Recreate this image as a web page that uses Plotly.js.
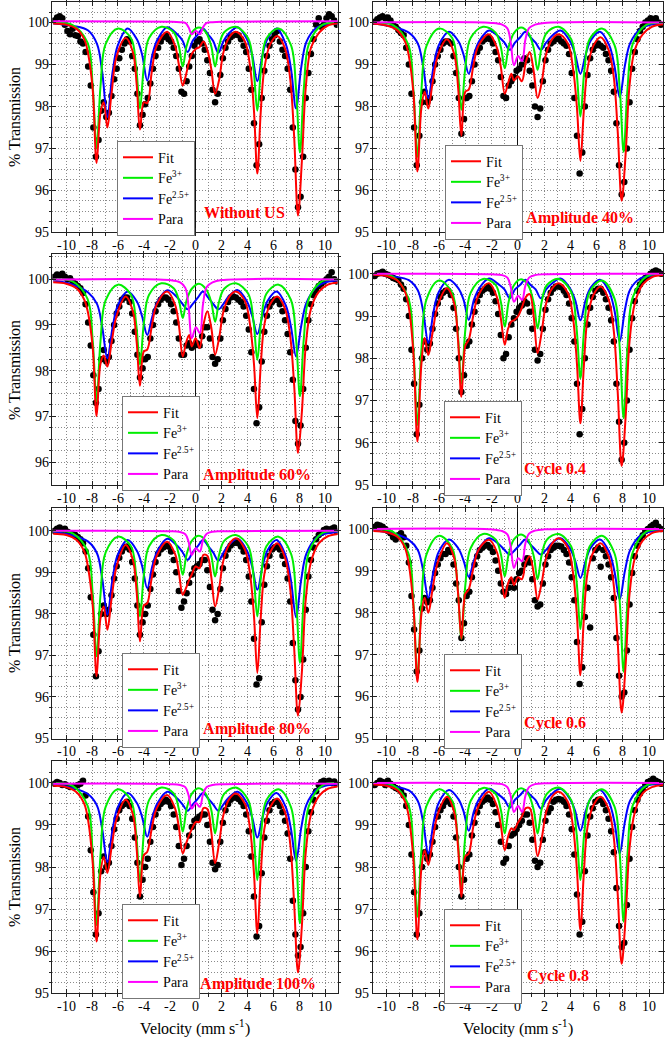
<!DOCTYPE html>
<html>
<head>
<meta charset="utf-8">
<script src="https://cdn.plot.ly/plotly-3.0.1.min.js"></script>
<style>
  @font-face { font-family: 'PaperSerif'; font-weight: 400; src: local('Liberation Serif'), local('LiberationSerif'), local('LiberationSerif-Regular'), local('Times New Roman'); }
  @font-face { font-family: 'PaperSerif'; font-weight: 700; src: local('Liberation Serif Bold'), local('LiberationSerif-Bold'), local('Times New Roman Bold'); }
  html, body { margin: 0; padding: 0; background: #fff; font-family: 'PaperSerif', 'Liberation Serif', serif; }
  #plot { width: 665px; height: 1039px; }
</style>
</head>
<body>
<div id="plot"></div>
<script>
// velocity channels (mm/s) shared by every measured spectrum
const velocity = [-10.9,-10.7,-10.5,-10.3,-10.1,-9.9,-9.7,-9.5,-9.3,-9.1,
  -8.9,-8.7,-8.5,-8.3,-8.1,-7.9,-7.7,-7.5,-7.3,-7.1,
  -6.9,-6.7,-6.5,-6.3,-6.1,-5.9,-5.7,-5.5,-5.3,-5.1,
  -4.9,-4.7,-4.5,-4.3,-4.1,-3.9,-3.7,-3.5,-3.3,-3.1,
  -2.9,-2.7,-2.5,-2.3,-2.1,-1.9,-1.7,-1.5,-1.3,-1.1,
  -0.9,-0.7,-0.5,-0.3,-0.1,0.1,0.3,0.5,0.7,0.9,
  1.1,1.3,1.5,1.7,1.9,2.1,2.3,2.5,2.7,2.9,
  3.1,3.3,3.5,3.7,3.9,4.1,4.3,4.5,4.7,4.9,
  5.1,5.3,5.5,5.7,5.9,6.1,6.3,6.5,6.7,6.9,
  7.1,7.3,7.5,7.7,7.9,8.1,8.3,8.5,8.7,8.9,
  9.1,9.3,9.5,9.7,9.9,10.1,10.3,10.5,10.7,10.9];

// velocities of the points
const fitX = [-11,-10,-9.2,-8.6,-8.3,-7.95,-7.65,-7.35,-7.1,-6.82,-6.5,-6.1,-5.4,-4.85,-4.55,-4.3,-4.0,-3.74,-3.4,-3.0,-2.2,-1.6,-1.3,-1.0,-0.75,-0.5,-0.3,0.0,0.3,0.6,0.9,1.2,1.5,1.8,2.15,2.6,3.1,3.8,4.2,4.5,4.76,5.02,5.3,5.75,6.3,6.9,7.3,7.6,7.9,8.2,8.5,8.9,9.5,10.2,11.1];
const fe3X = [-11,-9.5,-8.35,-7.95,-7.65,-7.35,-6.95,-6.0,-5.0,-4.6,-4.3,-4.0,-3.6,-2.65,-1.7,-1.3,-1.0,-0.7,-0.3,0.25,0.8,1.2,1.5,1.8,2.2,3.1,4.06,4.46,4.76,5.06,5.46,6.4,7.35,7.75,8.05,8.35,8.75,9.8,11.1];
const fe25X = [-11,-9.5,-8.3,-7.62,-7.22,-6.82,-6.42,-6.02,-5.25,-4.54,-4.14,-3.74,-3.34,-2.94,-2.2,-1.42,-1.02,-0.62,-0.22,0.18,0.56,0.95,1.35,1.75,2.15,2.55,3.25,3.96,4.36,4.76,5.16,5.56,6.25,6.95,7.35,7.75,8.15,8.55,9.3,10.0,11.1];
const paraX = [-11,-2.0,-1.2,-0.8,-0.55,-0.3,0.02,0.32,0.57,0.85,1.3,2.0,11.1];

const velocityTicks = [-10,-8,-6,-4,-2,0,2,4,6,8,10];
const velocityTickText = ['-10','-8','-6','-4','-2','0','2','4','6','8','10'];
const transmissionTicks = [95,96,97,98,99,100];

const panelNames = ['Without US','Amplitude 40%','Amplitude 60%','Cycle 0.4','Amplitude 80%','Cycle 0.6','Amplitude 100%','Cycle 0.8'];

// ---- Without US
const dotsWithoutUS = [100.05,100.12,100.15,100.1,99.95,99.8,99.72,99.85,99.7,99.68,
  99.55,99.5,99.3,98.95,98.5,97.5,96.8,97.2,97.9,98.1,
  97.75,97.85,98.25,98.65,98.9,99.15,99.35,99.5,99.6,99.55,
  99.2,98.9,98.3,97.55,97.8,98.05,98.2,98.55,98.9,99.2,
  99.4,99.55,99.65,99.7,99.6,99.55,99.4,99.2,98.9,98.35,
  98.3,98.6,98.95,99.2,99.45,99.55,99.6,99.5,99.35,99.1,
  98.8,98.4,98.1,98.3,98.75,99.15,99.4,99.55,99.65,99.7,
  99.72,99.7,99.6,99.45,99.3,98.9,98.4,97.6,96.6,97.1,
  98.2,98.85,99.2,99.45,99.6,99.7,99.8,99.55,99.35,99.2,
  98.9,98.4,97.5,96.5,95.6,95.85,96.8,98.2,98.8,99.25,
  99.6,99.95,100.1,99.9,99.95,100.1,100.2,100.15,100.05,99.95];
const fitWithoutUS = [99.98,99.95,99.85,99.6,99.25,98.4,96.65,97.85,98.1,97.5,98.3,99.2,99.63,99.3,98.5,97.45,98.1,98.08,98.8,99.45,99.78,99.45,99.0,98.5,98.75,99.08,99.25,99.37,99.42,99.55,99.35,98.9,98.3,98.62,99.3,99.65,99.78,99.55,98.95,97.9,96.4,97.85,98.9,99.48,99.68,99.38,98.65,97.3,95.4,96.7,98.45,99.4,99.75,99.93,99.98];
const fe3WithoutUS = [99.99,99.94,99.52,98.48,97.0,98.47,99.49,99.86,99.63,98.95,97.95,98.95,99.63,99.9,99.77,99.44,98.95,99.44,99.76,99.88,99.76,99.44,98.95,99.44,99.77,99.9,99.62,98.92,97.9,98.92,99.62,99.86,99.47,98.42,96.9,98.43,99.5,99.95,99.99];
const fe25WithoutUS = [99.98,99.92,99.81,99.49,98.83,97.75,98.81,99.45,99.86,99.6,99.24,98.62,99.24,99.6,99.89,99.72,99.57,99.3,99.57,99.72,99.86,99.72,99.56,99.28,99.56,99.74,99.89,99.6,99.23,98.6,99.23,99.62,99.86,99.49,98.92,97.95,98.93,99.54,99.87,99.95,99.98];
const paraWithoutUS = [100.03,100.02,100.01,99.99,99.89,99.72,99.8,99.72,99.89,99.99,100.01,100.02,100.03];

// ---- Amplitude 40%
const dotsAmp40 = [100.02,100.08,100.12,100.15,100.1,100.12,100.05,99.95,99.9,99.82,
  99.75,99.7,99.4,99.0,98.3,97.5,96.6,97.3,98.1,98.35,
  98.1,98.2,98.6,99.0,99.2,99.35,99.5,99.55,99.55,99.5,
  99.2,98.8,98.2,97.35,97.7,98.2,98.25,98.6,99.0,99.3,
  99.4,99.55,99.6,99.65,99.6,99.5,99.3,99.1,98.7,98.25,
  98.2,98.5,98.6,98.7,98.85,98.9,99.0,99.15,99.1,98.85,
  98.5,98.0,97.75,97.95,98.6,99.1,99.35,99.5,99.55,99.6,
  99.62,99.55,99.5,99.45,99.25,98.8,98.2,97.3,96.4,96.9,
  98.0,98.75,99.15,99.35,99.45,99.5,99.45,99.4,99.25,99.1,
  98.85,98.35,97.6,96.6,95.9,96.2,97.0,98.1,98.9,99.3,
  99.6,99.8,99.9,100.0,100.05,100.1,100.05,100.1,100.0,99.95];
const fitAmp40 = [99.97,99.93,99.82,99.55,99.2,98.3,96.45,97.95,98.35,97.95,98.55,99.2,99.6,99.25,98.45,97.3,98.35,98.4,98.95,99.45,99.72,99.4,98.95,98.3,98.55,98.78,98.62,98.72,98.6,99.05,99.3,98.85,98.2,98.55,99.25,99.6,99.72,99.5,98.9,97.95,96.7,97.9,98.9,99.45,99.65,99.35,98.7,97.4,95.75,96.85,98.5,99.35,99.72,99.9,99.96];
const fe3Amp40 = [99.99,99.94,99.48,98.38,96.8,98.37,99.45,99.86,99.63,98.93,97.92,98.93,99.63,99.9,99.76,99.42,98.91,99.42,99.75,99.88,99.75,99.4,98.87,99.4,99.76,99.9,99.6,98.85,97.76,98.85,99.6,99.86,99.47,98.43,96.92,98.44,99.5,99.95,99.99];
const fe25Amp40 = [99.98,99.9,99.76,99.5,98.97,98.2,98.95,99.46,99.78,99.56,99.24,98.78,99.24,99.56,99.81,99.65,99.52,99.35,99.52,99.65,99.78,99.65,99.52,99.35,99.52,99.67,99.81,99.56,99.24,98.78,99.24,99.58,99.78,99.46,98.97,98.22,98.98,99.51,99.84,99.94,99.98];
const paraAmp40 = [100,99.99,99.95,99.86,99.54,98.98,99.2,99.08,99.59,99.87,99.95,99.99,100];

// ---- Amplitude 60%
const dotsAmp60 = [100.05,100.1,100.08,100.12,100.05,100.0,100.02,99.95,99.9,99.85,
  99.8,99.7,99.45,99.05,98.55,97.9,97.3,97.6,98.25,98.45,
  98.2,98.3,98.65,99.0,99.25,99.4,99.55,99.6,99.6,99.5,
  99.25,98.85,98.35,97.85,98.05,98.25,98.3,98.7,99.0,99.3,
  99.45,99.55,99.6,99.6,99.55,99.45,99.3,99.05,98.7,98.35,
  98.35,98.55,98.6,98.5,98.55,98.6,98.55,98.75,98.95,98.95,
  98.7,98.3,98.15,98.25,98.7,99.1,99.35,99.5,99.6,99.62,
  99.6,99.55,99.5,99.4,99.2,98.9,98.4,97.6,96.85,97.2,
  98.2,98.85,99.2,99.4,99.5,99.55,99.55,99.45,99.3,99.1,
  98.8,98.4,97.8,96.9,96.4,96.8,97.6,98.5,99.1,99.45,
  99.65,99.75,99.85,99.9,99.95,100.0,100.05,100.15,100.0,99.95];
const fitAmp60 = [99.93,99.9,99.8,99.55,99.25,98.5,97.01,98.15,98.33,98.09,98.6,99.2,99.62,99.3,98.6,97.67,98.42,98.46,98.95,99.45,99.73,99.45,99.0,98.31,98.6,98.78,98.53,98.71,98.49,99.0,99.3,98.95,98.35,98.7,99.3,99.62,99.73,99.52,99.0,98.15,96.96,98.1,99.0,99.45,99.62,99.35,98.75,97.7,96.2,97.1,98.55,99.35,99.72,99.88,99.93];
const fe3Amp60 = [99.99,99.95,99.57,98.65,97.33,98.64,99.54,99.88,99.66,99.04,98.13,99.04,99.66,99.91,99.8,99.54,99.15,99.54,99.79,99.9,99.78,99.5,99.07,99.5,99.79,99.91,99.68,99.09,98.24,99.09,99.68,99.88,99.55,98.69,97.44,98.7,99.58,99.96,99.99];
const fe25Amp60 = [99.97,99.88,99.71,99.46,98.96,98.27,98.94,99.42,99.73,99.51,99.19,98.78,99.19,99.51,99.76,99.6,99.46,99.34,99.46,99.6,99.73,99.6,99.46,99.34,99.46,99.62,99.76,99.51,99.2,98.8,99.2,99.53,99.73,99.43,98.97,98.31,98.98,99.48,99.82,99.93,99.97];
const paraAmp60 = [99.99,99.98,99.93,99.81,99.41,98.71,98.95,98.82,99.46,99.83,99.93,99.98,99.99];

// ---- Cycle 0.4
const dotsCycle04 = [99.95,100.0,100.02,100.05,100.0,99.98,99.95,99.9,99.88,99.85,
  99.75,99.65,99.4,99.0,98.2,97.4,96.2,96.9,98.0,98.4,
  98.2,98.35,98.7,99.05,99.3,99.45,99.55,99.6,99.6,99.5,
  99.2,98.7,98.0,97.2,97.6,98.3,98.4,98.8,99.1,99.35,
  99.5,99.6,99.65,99.7,99.65,99.55,99.35,99.05,98.55,98.0,
  98.1,98.5,98.8,98.95,99.1,99.2,99.25,99.35,99.3,99.1,
  98.7,98.2,97.95,98.1,98.7,99.15,99.4,99.55,99.65,99.7,
  99.7,99.68,99.6,99.5,99.3,98.95,98.4,97.4,96.2,96.8,
  98.0,98.8,99.2,99.45,99.6,99.65,99.65,99.55,99.4,99.2,
  98.9,98.4,97.4,96.5,95.6,96.0,97.0,98.2,98.95,99.35,
  99.6,99.75,99.85,99.9,99.95,100.0,100.05,100.08,100.05,100.0];
const fitCycle04 = [99.98,99.95,99.85,99.58,99.2,98.1,96.03,97.85,98.48,98.08,98.6,99.25,99.66,99.3,98.4,97.09,98.3,98.44,99.0,99.5,99.78,99.45,98.95,98.32,98.7,98.87,98.9,98.99,99.2,99.45,99.52,99.0,98.12,98.6,99.3,99.65,99.78,99.55,98.95,97.85,96.46,97.8,98.95,99.5,99.7,99.4,98.65,97.2,95.45,96.6,98.4,99.3,99.75,99.92,99.97];
const fe3Cycle04 = [99.99,99.93,99.43,98.19,96.42,98.18,99.4,99.84,99.55,98.68,97.41,98.68,99.55,99.88,99.74,99.34,98.75,99.34,99.73,99.87,99.72,99.32,98.71,99.32,99.73,99.88,99.57,98.74,97.53,98.74,99.57,99.84,99.42,98.26,96.58,98.27,99.45,99.94,99.99];
const fe25Cycle04 = [99.98,99.94,99.85,99.61,99.13,98.36,99.11,99.57,99.86,99.66,99.39,98.91,99.39,99.66,99.89,99.74,99.63,99.42,99.63,99.74,99.86,99.74,99.63,99.42,99.63,99.76,99.89,99.66,99.38,98.9,99.38,99.68,99.86,99.58,99.14,98.4,99.15,99.63,99.89,99.95,99.98];
const paraCycle04 = [100,99.99,99.97,99.91,99.7,99.34,99.48,99.38,99.72,99.91,99.97,99.99,100];

// ---- Amplitude 80%
const dotsAmp80 = [100.0,100.05,100.08,100.02,100.05,99.98,99.95,99.92,99.9,99.85,
  99.8,99.7,99.5,99.1,98.4,97.5,96.5,97.1,98.0,98.2,
  98.0,98.1,98.45,98.85,99.15,99.35,99.5,99.6,99.62,99.55,
  99.25,98.85,98.2,97.5,97.8,98.0,98.2,98.6,98.95,99.25,
  99.45,99.55,99.6,99.65,99.62,99.5,99.3,99.0,98.55,98.15,
  98.3,98.5,98.75,98.95,99.1,99.15,99.2,99.3,99.3,99.05,
  98.65,98.1,97.85,98.0,98.6,99.1,99.4,99.55,99.65,99.7,
  99.72,99.7,99.62,99.5,99.3,98.9,98.3,97.4,96.3,96.45,
  97.8,98.7,99.15,99.4,99.55,99.6,99.62,99.55,99.4,99.2,
  98.85,98.3,97.3,96.4,95.7,96.0,96.9,98.1,98.9,99.3,
  99.6,99.8,99.9,99.95,100.02,100.05,100.0,100.05,100.08,99.98];
const fitAmp80 = [99.93,99.9,99.78,99.5,99.1,98.2,96.5,97.9,98.18,97.62,98.35,99.15,99.66,99.3,98.5,97.34,98.2,98.26,98.85,99.4,99.74,99.45,99.0,98.46,98.62,98.82,98.95,99.14,99.1,99.42,99.4,98.9,98.18,98.6,99.3,99.68,99.82,99.55,98.95,97.95,96.58,97.9,98.95,99.48,99.7,99.35,98.6,97.2,95.55,96.6,98.35,99.25,99.7,99.87,99.93];
const fe3Amp80 = [99.99,99.94,99.51,98.47,96.98,98.46,99.48,99.86,99.63,98.94,97.94,98.94,99.63,99.9,99.77,99.43,98.94,99.43,99.76,99.88,99.75,99.41,98.9,99.41,99.76,99.9,99.63,98.94,97.94,98.94,99.63,99.86,99.46,98.38,96.82,98.39,99.49,99.95,99.99];
const fe25Amp80 = [99.97,99.89,99.74,99.46,98.86,97.98,98.84,99.42,99.78,99.52,99.16,98.62,99.16,99.52,99.81,99.64,99.49,99.3,99.49,99.64,99.78,99.64,99.48,99.28,99.48,99.66,99.81,99.52,99.14,98.58,99.14,99.54,99.78,99.4,98.82,97.92,98.83,99.45,99.83,99.93,99.97];
const paraAmp80 = [100,99.99,99.97,99.92,99.74,99.42,99.58,99.5,99.78,99.93,99.98,99.99,100];

// ---- Cycle 0.6
const dotsCycle06 = [100.05,100.1,100.08,100.05,100.0,99.95,99.9,99.8,99.75,99.85,
  99.9,99.8,99.6,99.2,98.4,97.6,96.6,97.1,98.1,98.35,
  98.25,98.3,98.6,98.95,99.15,99.3,99.4,99.4,99.5,99.45,
  99.15,98.7,98.3,97.4,97.75,98.4,98.5,98.85,99.15,99.35,
  99.5,99.55,99.6,99.62,99.55,99.45,99.25,99.0,98.7,98.5,
  98.45,98.6,98.75,98.6,98.8,98.95,99.0,99.15,99.3,99.2,
  98.8,98.3,98.15,98.2,98.7,99.15,99.35,99.5,99.55,99.6,
  99.6,99.58,99.5,99.4,99.2,98.85,98.3,97.3,96.3,96.7,
  97.9,98.6,97.65,99.3,99.5,99.55,99.1,99.5,99.35,99.15,
  98.85,98.35,97.4,96.5,96.0,96.1,97.1,98.2,98.95,99.35,
  99.6,99.75,99.85,99.95,100.0,100.05,100.1,100.15,100.05,100.0];
const fitCycle06 = [99.95,99.92,99.82,99.55,99.15,98.15,96.35,97.95,98.36,98.0,98.55,99.2,99.66,99.3,98.45,97.38,98.45,98.56,99.05,99.5,99.74,99.45,98.95,98.36,98.7,98.85,98.66,98.85,98.8,99.2,99.35,98.95,98.32,98.7,99.3,99.65,99.78,99.55,98.95,97.9,96.51,97.85,98.95,99.45,99.66,99.35,98.65,97.3,95.62,96.75,98.45,99.3,99.72,99.9,99.95];
const fe3Cycle06 = [99.99,99.93,99.43,98.2,96.43,98.19,99.4,99.84,99.54,98.66,97.38,98.66,99.54,99.88,99.75,99.4,98.87,99.4,99.75,99.87,99.73,99.36,98.8,99.36,99.74,99.88,99.58,98.78,97.61,98.78,99.58,99.84,99.42,98.27,96.59,98.28,99.45,99.94,99.99];
const fe25Cycle06 = [99.97,99.89,99.74,99.5,99.02,98.36,99.0,99.46,99.75,99.54,99.25,98.86,99.25,99.54,99.78,99.63,99.5,99.39,99.5,99.63,99.75,99.63,99.5,99.39,99.5,99.65,99.78,99.54,99.24,98.83,99.24,99.56,99.75,99.45,98.99,98.32,99.0,99.5,99.84,99.93,99.97];
const paraCycle06 = [100,99.99,99.95,99.87,99.58,99.07,99.3,99.23,99.65,99.89,99.96,99.99,100];

// ---- Amplitude 100%
const dotsAmp100 = [99.98,100.02,100.0,99.95,99.97,99.93,99.9,99.92,99.9,99.95,
  99.98,100.05,99.7,99.2,98.4,97.4,96.4,96.9,97.9,98.25,
  98.0,98.1,98.5,98.9,99.15,99.35,99.45,99.5,99.55,99.45,
  99.15,98.7,98.1,97.3,97.7,98.0,98.2,98.6,98.95,99.25,
  99.4,99.5,99.55,99.6,99.55,99.45,99.25,98.95,98.5,98.05,
  98.2,98.5,98.75,98.95,99.1,99.15,99.2,99.25,99.25,99.0,
  98.6,98.1,97.95,98.05,98.6,99.05,99.35,99.5,99.6,99.65,
  99.65,99.62,99.55,99.45,99.25,98.85,98.25,97.3,96.35,96.6,
  97.85,98.7,99.1,99.35,99.5,99.55,99.55,99.45,99.3,99.1,
  98.8,98.2,97.2,96.4,95.9,96.1,96.9,98.0,98.85,99.3,
  99.6,99.8,99.95,100.02,100.05,100.02,100.05,100.0,100.03,99.98];
const fitAmp100 = [99.93,99.9,99.78,99.5,99.1,98.1,96.23,97.85,98.24,97.86,98.45,99.15,99.6,99.25,98.4,97.29,98.28,98.36,98.9,99.4,99.71,99.4,98.95,98.32,98.55,98.76,98.9,99.07,99.07,99.4,99.38,98.85,98.09,98.55,99.25,99.62,99.75,99.5,98.9,97.85,96.42,97.8,98.9,99.42,99.63,99.3,98.55,97.15,95.5,96.6,98.35,99.25,99.68,99.86,99.92];
const fe3Amp100 = [99.99,99.93,99.46,98.29,96.62,98.28,99.43,99.85,99.59,98.8,97.65,98.8,99.59,99.89,99.75,99.38,98.84,99.38,99.74,99.87,99.73,99.36,98.8,99.36,99.74,99.89,99.59,98.82,97.69,98.82,99.59,99.85,99.43,98.3,96.66,98.31,99.46,99.94,99.99];
const fe25Amp100 = [99.97,99.88,99.73,99.46,98.91,98.12,98.89,99.42,99.76,99.52,99.19,98.72,99.19,99.52,99.79,99.63,99.49,99.34,99.49,99.63,99.76,99.63,99.49,99.34,99.49,99.65,99.79,99.52,99.18,98.7,99.18,99.54,99.76,99.43,98.92,98.15,98.93,99.48,99.83,99.93,99.97];
const paraAmp100 = [99.98,99.97,99.95,99.9,99.71,99.39,99.52,99.43,99.73,99.9,99.95,99.97,99.98];

// ---- Cycle 0.8
const dotsCycle08 = [99.95,100.0,100.05,100.02,99.95,100.05,99.98,99.92,99.88,99.85,
  99.8,99.7,99.45,99.0,98.3,97.4,96.4,96.9,98.0,98.35,
  98.2,98.3,98.6,98.95,99.2,99.35,99.45,99.55,99.6,99.5,
  99.2,98.7,98.0,97.3,97.7,98.2,98.3,98.75,99.05,99.3,
  99.45,99.55,99.6,99.65,99.6,99.5,99.3,99.0,98.6,98.1,
  98.2,98.5,98.75,98.8,98.9,99.0,99.1,99.25,99.25,99.05,
  98.65,98.15,98.0,98.1,98.65,99.1,99.3,99.4,99.55,99.6,
  99.62,99.6,99.55,99.45,99.25,98.9,98.3,97.35,96.4,96.7,
  97.9,98.75,99.2,99.4,99.55,99.6,99.6,99.5,99.35,99.15,
  98.85,98.35,97.5,96.6,96.1,96.2,97.1,98.2,98.95,99.35,
  99.6,99.75,99.85,99.95,100.02,100.05,100.1,100.05,100.02,99.98];
const fitCycle08 = [99.96,99.93,99.83,99.56,99.18,98.15,96.28,97.95,98.4,98.05,98.6,99.25,99.67,99.3,98.45,97.29,98.25,98.32,98.95,99.45,99.79,99.45,99.0,98.4,98.72,98.92,98.88,99.05,99.2,99.4,99.4,98.95,98.26,98.65,99.3,99.67,99.79,99.55,98.95,97.9,96.5,97.85,98.95,99.47,99.67,99.38,98.7,97.35,95.7,96.8,98.45,99.3,99.75,99.9,99.95];
const fe3Cycle08 = [99.99,99.94,99.49,98.39,96.82,98.38,99.46,99.85,99.57,98.74,97.53,98.74,99.57,99.88,99.74,99.36,98.8,99.36,99.73,99.87,99.73,99.36,98.8,99.36,99.74,99.89,99.59,98.82,97.69,98.82,99.59,99.85,99.44,98.32,96.7,98.33,99.47,99.94,99.99];
const fe25Cycle08 = [99.98,99.92,99.82,99.57,99.08,98.32,99.06,99.53,99.83,99.62,99.33,98.86,99.33,99.62,99.86,99.71,99.6,99.41,99.6,99.71,99.83,99.71,99.59,99.39,99.59,99.73,99.86,99.62,99.33,98.86,99.33,99.64,99.83,99.53,99.07,98.32,99.08,99.58,99.87,99.95,99.98];
const paraCycle08 = [100,99.99,99.97,99.9,99.69,99.31,99.45,99.31,99.69,99.9,99.97,99.99,100];

const spectra = [
  {dots: dotsWithoutUS, fit: fitWithoutUS, fe3: fe3WithoutUS, fe25: fe25WithoutUS, para: paraWithoutUS},
  {dots: dotsAmp40, fit: fitAmp40, fe3: fe3Amp40, fe25: fe25Amp40, para: paraAmp40},
  {dots: dotsAmp60, fit: fitAmp60, fe3: fe3Amp60, fe25: fe25Amp60, para: paraAmp60},
  {dots: dotsCycle04, fit: fitCycle04, fe3: fe3Cycle04, fe25: fe25Cycle04, para: paraCycle04},
  {dots: dotsAmp80, fit: fitAmp80, fe3: fe3Amp80, fe25: fe25Amp80, para: paraAmp80},
  {dots: dotsCycle06, fit: fitCycle06, fe3: fe3Cycle06, fe25: fe25Cycle06, para: paraCycle06},
  {dots: dotsAmp100, fit: fitAmp100, fe3: fe3Amp100, fe25: fe25Amp100, para: paraAmp100},
  {dots: dotsCycle08, fit: fitCycle08, fe3: fe3Cycle08, fe25: fe25Cycle08, para: paraCycle08}
];

// page geometry, in pixels of the 665x1039 picture
const W = 665, H = 1039;
const colPx = [[52.3, 337.5], [373, 663.3]];
const colRange = [[-11.07, 10.95], [-11.03, 11.07]];
const rowPx = [[2, 232.3], [254, 485], [508, 738.5], [761, 993.3]];
const yRanges = [[95, 100.49], [95, 100.49], [95.5, 100.55], [95, 100.47], [95, 100.55], [95, 100.5], [95, 100.52], [95, 100.52]];
const legendPx = [[117, 141], [445, 145], [122, 396], [444, 401], [122, 653], [444, 654], [122, 904], [444, 909]];
const labelPx = [[244, 212], [580, 217], [257, 474], [555, 468], [257, 728], [555, 722], [258, 983], [558, 975]];

const serif = 'PaperSerif';
const gridStyle = {showgrid: true, gridcolor: '#8a8a8a', griddash: '1px,2px', gridwidth: 1};

const traces = [];
const layout = {
  width: W, height: H,
  margin: {l: 0, r: 0, t: 0, b: 0},
  paper_bgcolor: '#fff', plot_bgcolor: '#fff',
  showlegend: true,
  font: {family: serif, color: '#000'},
  annotations: []
};

spectra.forEach((s, i) => {
  const n = i === 0 ? '' : String(i + 1);
  const row = Math.floor(i / 2), col = i % 2;
  const legendId = i === 0 ? 'legend' : 'legend' + (i + 1);
  const axes = {xaxis: 'x' + n, yaxis: 'y' + n, hoverinfo: 'skip'};

  traces.push(Object.assign({
    x: velocity, y: s.dots, type: 'scatter', mode: 'markers',
    marker: {color: '#000', size: 6.5}, showlegend: false
  }, axes));

  const curves = [
    {x: fe25X, y: s.fe25, name: 'Fe<sup>2.5+</sup>', color: '#0000ff', rank: 3},
    {x: fe3X, y: s.fe3, name: 'Fe<sup>3+</sup>', color: '#00ee00', rank: 2},
    {x: fitX, y: s.fit, name: 'Fit', color: '#ff0000', rank: 1},
    {x: paraX, y: s.para, name: 'Para', color: '#ff00ff', rank: 4}
  ];
  curves.forEach(c => {
    traces.push(Object.assign({
      x: c.x, y: c.y, type: 'scatter', mode: 'lines', name: c.name,
      line: {color: c.color, width: 2, shape: 'spline', smoothing: 1},
      legend: legendId, legendrank: c.rank
    }, axes));
  });

  layout['xaxis' + n] = Object.assign({
    domain: [colPx[col][0] / W, colPx[col][1] / W],
    range: colRange[col], anchor: 'y' + n,
    tickmode: 'array', tickvals: velocityTicks, ticktext: velocityTickText,
    ticks: 'inside', ticklen: 4, tickcolor: '#222', mirror: 'ticks',
    showline: true, linecolor: '#222', linewidth: 1,
    zeroline: true, zerolinecolor: '#111', zerolinewidth: 1.2,
    tickfont: {family: serif, size: 14, color: '#000'},
    minor: Object.assign({tickmode: 'linear', tick0: 0, dtick: 1, ticklen: 2.5, tickcolor: '#222'}, gridStyle),
    fixedrange: true
  }, gridStyle);

  layout['yaxis' + n] = Object.assign({
    domain: [1 - rowPx[row][1] / H, 1 - rowPx[row][0] / H],
    range: yRanges[i], anchor: 'x' + n,
    tickmode: 'array', tickvals: transmissionTicks,
    ticks: 'inside', ticklen: 4, tickcolor: '#222', mirror: 'ticks',
    showline: true, linecolor: '#222', linewidth: 1, zeroline: false,
    tickfont: {family: serif, size: 14, color: '#000'},
    minor: Object.assign({tickmode: 'linear', tick0: 95, dtick: 0.25, ticklen: 2, tickcolor: '#222'}, gridStyle),
    fixedrange: true
  }, gridStyle);

  layout[legendId] = {
    x: legendPx[i][0] / W, y: 1 - legendPx[i][1] / H,
    xanchor: 'left', yanchor: 'top',
    bgcolor: '#fff', bordercolor: '#777', borderwidth: 1,
    font: {family: serif, size: 13.5, color: '#000'},
    tracegroupgap: 0, itemwidth: 30
  };

  layout.annotations.push({
    text: panelNames[i], xref: 'paper', yref: 'paper',
    x: labelPx[i][0] / W, y: 1 - labelPx[i][1] / H,
    xanchor: 'center', yanchor: 'middle', showarrow: false,
    font: {family: serif, size: 16, color: '#ff0000', weight: 'bold'}
  });

  if (col === 0) {
    layout.annotations.push({
      text: '% Transmission', xref: 'paper', yref: 'paper', textangle: -90,
      x: 14 / W, y: 1 - (rowPx[row][0] + rowPx[row][1]) / 2 / H,
      xanchor: 'center', yanchor: 'middle', showarrow: false,
      font: {family: serif, size: 15.5, color: '#000'}
    });
  }
  if (row === 3) {
    layout.annotations.push({
      text: 'Velocity (mm s<sup>-1</sup>)', xref: 'paper', yref: 'paper',
      x: (colPx[col][0] + colPx[col][1]) / 2 / W, y: 1 - 1027 / H,
      xanchor: 'center', yanchor: 'middle', showarrow: false,
      font: {family: serif, size: 15.5, color: '#000'}
    });
  }
});

Plotly.newPlot('plot', traces, layout, {displayModeBar: false, staticPlot: true});
</script>
</body>
</html>
